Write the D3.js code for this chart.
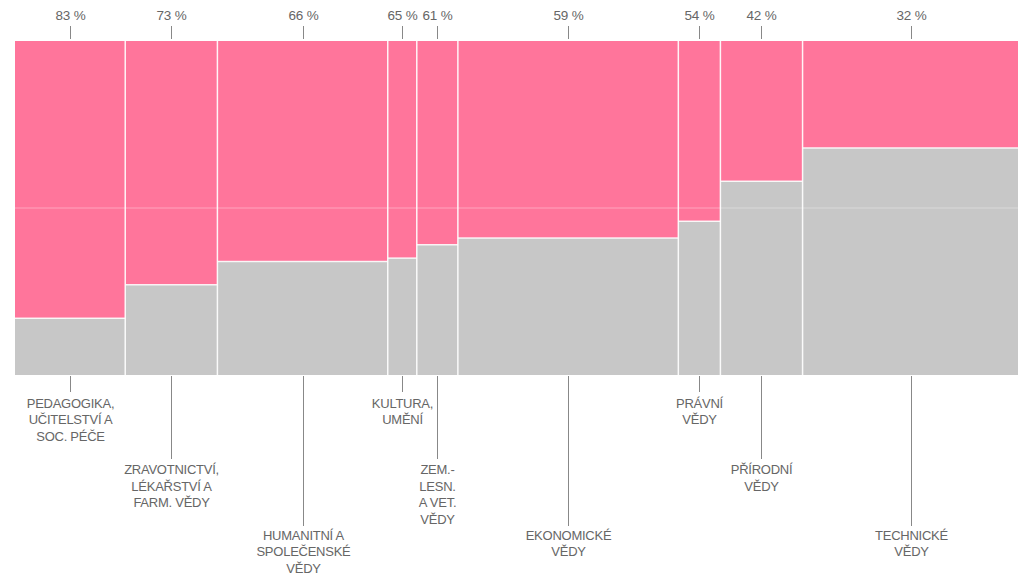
<!DOCTYPE html>
<html>
<head>
<meta charset="utf-8">
<script src="https://cdn.jsdelivr.net/npm/d3@7"></script>
<style>
  html, body { margin: 0; padding: 0; background: #fff; }
  svg { display: block; }
  text { font-family: "Liberation Sans", Arial, sans-serif; }
</style>
</head>
<body>
<svg id="chart" width="1018" height="576"></svg>
<script>
// --- data ---
const categories = [
  ["PEDAGOGIKA,", "UČITELSTVÍ A", "SOC. PÉČE"],
  ["ZRAVOTNICTVÍ,", "LÉKAŘSTVÍ A", "FARM. VĚDY"],
  ["HUMANITNÍ A", "SPOLEČENSKÉ", "VĚDY"],
  ["KULTURA,", "UMĚNÍ"],
  ["ZEM.-", "LESN.", "A VET.", "VĚDY"],
  ["EKONOMICKÉ", "VĚDY"],
  ["PRÁVNÍ", "VĚDY"],
  ["PŘÍRODNÍ", "VĚDY"],
  ["TECHNICKÉ", "VĚDY"]
];
// relative size of each field (column width), estimated
const sizes = [110, 92, 170, 29, 41, 220, 42, 82, 216];
// share of women, %
const women = [83, 73, 66, 65, 61, 59, 54, 42, 32];
// label level (stagger) of each bottom label
const levels = [0, 1, 2, 0, 1, 2, 0, 1, 2];

// --- layout ---
const svg = d3.select("#chart");
const mLeft = 15, mRight = 1019, mTop = 41, mBottom = 375;
const total = d3.sum(sizes);
const x = d3.scaleLinear().domain([0, total]).range([mLeft, mRight]);
const y = d3.scaleLinear().domain([0, 100]).range([mTop, mBottom]);

const cum = d3.cumsum(sizes);
const data = sizes.map((s, i) => ({
  i, x0: cum[i] - s, x1: cum[i], w: women[i], lines: categories[i], level: levels[i]
}));

const pink = "#ff759b", grey = "#c7c7c7";

const g = svg.append("g");
// women (top, pink)
g.selectAll("rect.w").data(data).join("rect")
  .attr("class", "w")
  .attr("x", d => x(d.x0)).attr("width", d => x(d.x1) - x(d.x0))
  .attr("y", y(0)).attr("height", d => y(d.w) - y(0))
  .attr("fill", pink);
// men (bottom, grey)
g.selectAll("rect.m").data(data).join("rect")
  .attr("class", "m")
  .attr("x", d => x(d.x0)).attr("width", d => x(d.x1) - x(d.x0))
  .attr("y", d => y(d.w)).attr("height", d => y(100) - y(d.w))
  .attr("fill", grey);

// boundary between pink and grey
g.selectAll("line.b").data(data).join("line")
  .attr("class", "b")
  .attr("x1", d => x(d.x0)).attr("x2", d => x(d.x1))
  .attr("y1", d => y(d.w)).attr("y2", d => y(d.w))
  .attr("stroke", "#fff").attr("stroke-width", 1.5).attr("opacity", 0.85);

// 50% line
g.append("line")
  .attr("x1", mLeft).attr("x2", mRight)
  .attr("y1", y(50)).attr("y2", y(50))
  .attr("stroke", "#fff").attr("stroke-width", 1).attr("opacity", 0.35);

// column separators
g.selectAll("line.sep").data(data.slice(1)).join("line")
  .attr("class", "sep")
  .attr("x1", d => x(d.x0)).attr("x2", d => x(d.x0))
  .attr("y1", mTop).attr("y2", mBottom)
  .attr("stroke", "#fff").attr("stroke-width", 1.5).attr("opacity", 0.9);

const cx = d => Math.round(x((d.x0 + d.x1) / 2)) + 0.5;

// top percentage labels
svg.selectAll("line.tt").data(data).join("line")
  .attr("class", "tt")
  .attr("x1", cx).attr("x2", cx).attr("y1", 26).attr("y2", 39)
  .attr("stroke", "#888").attr("stroke-width", 1);
svg.selectAll("text.pct").data(data).join("text")
  .attr("class", "pct")
  .attr("x", cx).attr("y", 20)
  .attr("text-anchor", "middle")
  .attr("font-size", 13.5).attr("fill", "#666")
  .attr("letter-spacing", -0.2)
  .text(d => d.w + " %");

// bottom labels
const tickEnd = [392, 459, 526];
const firstLine = [407.5, 474, 539.5];
const lh = 16.6;
svg.selectAll("line.bt").data(data).join("line")
  .attr("class", "bt")
  .attr("x1", cx).attr("x2", cx).attr("y1", mBottom + 1).attr("y2", d => tickEnd[d.level])
  .attr("stroke", "#888").attr("stroke-width", 1);
const lab = svg.selectAll("text.lab").data(data).join("text")
  .attr("class", "lab")
  .attr("text-anchor", "middle")
  .attr("font-size", 13).attr("fill", "#666")
  .attr("letter-spacing", -0.25);
lab.each(function(d) {
  d3.select(this).selectAll("tspan").data(d.lines).join("tspan")
    .attr("x", cx(d)).attr("y", (t, j) => firstLine[d.level] + j * lh)
    .text(t => t);
});
</script>
</body>
</html>
